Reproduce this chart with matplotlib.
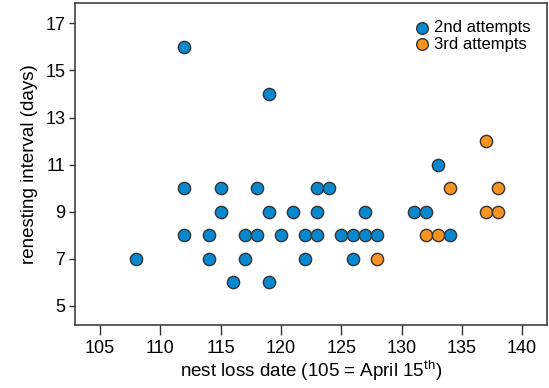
import matplotlib
matplotlib.use("Agg")
import matplotlib.pyplot as plt

plt.rcParams["font.family"] = ["Liberation Sans", "DejaVu Sans"]
plt.rcParams["mathtext.fontset"] = "custom"
plt.rcParams["mathtext.rm"] = "Liberation Sans"

# 2nd attempts
second_x = [108, 112, 112, 112, 114, 114, 115, 115, 116, 117, 117, 118, 118,
            119, 119, 119, 120, 121, 122, 122, 123, 123, 123, 124, 125, 126,
            126, 127, 127, 128, 131, 132, 133, 134]
second_y = [7, 16, 10, 8, 8, 7, 10, 9, 6, 8, 7, 10, 8,
            14, 9, 6, 8, 9, 8, 7, 10, 9, 8, 10, 8, 8,
            7, 9, 8, 8, 9, 9, 11, 8]

# 3rd attempts
third_x = [128, 132, 133, 134, 137, 137, 138, 138]
third_y = [7, 8, 8, 10, 12, 9, 10, 9]

x_ticks = [105, 110, 115, 120, 125, 130, 135, 140]
y_ticks = [5, 7, 9, 11, 13, 15, 17]

blue = "#0788cf"
orange = "#f7931e"
edge = "#333333"

fig = plt.figure(figsize=(5.49, 3.88), dpi=100)
ax = fig.add_axes([0.1366, 0.1624, 0.86, 0.829])

ax.scatter(second_x, second_y, s=78, c=blue, edgecolors=edge, linewidths=1.0,
           zorder=3, label="2nd attempts")
ax.scatter(third_x, third_y, s=78, c=orange, edgecolors=edge, linewidths=1.0,
           zorder=3, label="3rd attempts")

ax.set_xlim(102.93, 142.07)
ax.set_ylim(4.19, 17.85)
ax.set_xticks(x_ticks)
ax.set_yticks(y_ticks)

for sp in ax.spines.values():
    sp.set_color(edge)
    sp.set_linewidth(1.1)

ax.tick_params(axis="x", direction="out", length=7, width=1.0, color=edge,
               labelsize=13, pad=4)
ax.tick_params(axis="y", direction="out", length=4, width=1.0, color=edge,
               labelsize=13, pad=3)

ax.set_xlabel("nest loss date (105 = April 15$^{\\mathrm{th}}$)", fontsize=13.5, labelpad=1)
ax.set_ylabel("renesting interval (days)", fontsize=13.5, labelpad=5)

ax.legend(loc="upper right", frameon=False, fontsize=12, handletextpad=0.1,
          labelspacing=0.1, borderaxespad=0.6, borderpad=0.4,
          handlelength=1.2, markerscale=0.95)

fig.savefig("out.png", dpi=100)
